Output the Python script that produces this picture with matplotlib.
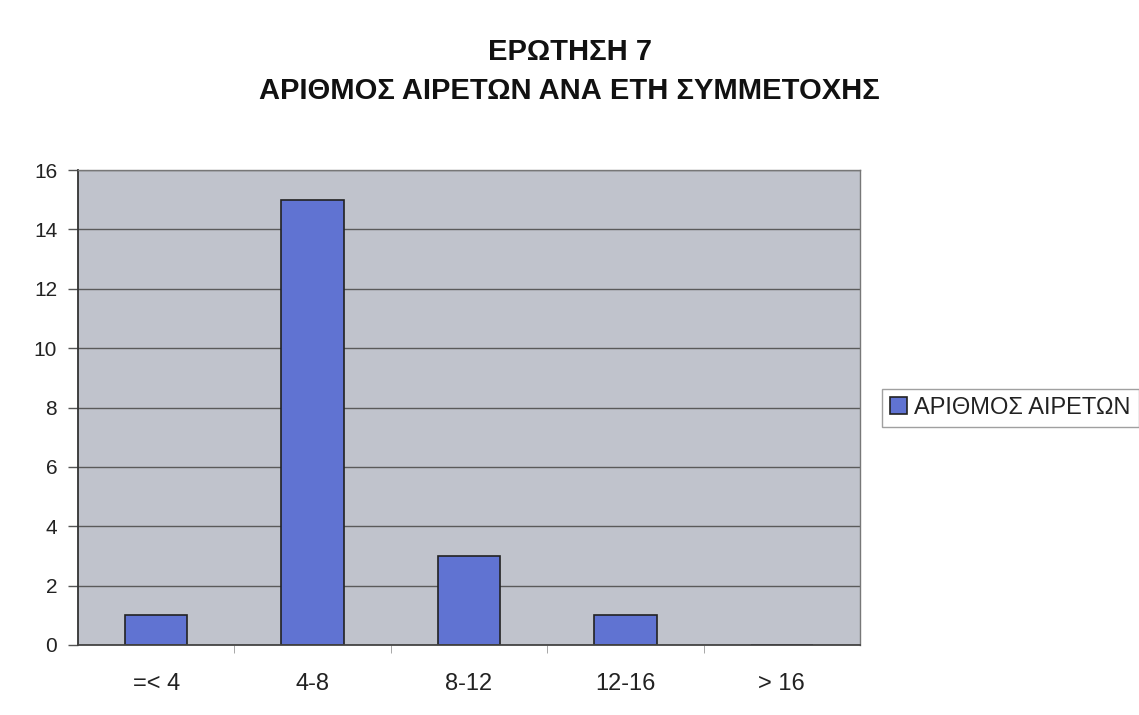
import matplotlib
matplotlib.use("Agg")
import matplotlib.pyplot as plt
import numpy as np

categories = ["=< 4", "4-8", "8-12", "12-16", "> 16"]
values = [1, 15, 3, 1, 0]
series_name = "ΑΡΙΘΜΟΣ ΑΙΡΕΤΩΝ"
title_line1 = "ΕΡΩΤΗΣΗ 7"
title_line2 = "ΑΡΙΘΜΟΣ ΑΙΡΕΤΩΝ ΑΝΑ ΕΤΗ ΣΥΜΜΕΤΟΧΗΣ"
yticks = [0, 2, 4, 6, 8, 10, 12, 14, 16]

plt.rcParams['font.family'] = ['Liberation Sans', 'DejaVu Sans']

fig = plt.figure(figsize=(11.39, 7.15), dpi=100)
ax = fig.add_axes([78/1139, 1-645/715, (860-78)/1139, (645-170)/715])
ax.set_facecolor("#c0c3cc")

x = np.arange(len(categories))
ax.bar(x, values, width=0.4, color="#6073d2", edgecolor="#222222", linewidth=1.2,
       label=series_name, zorder=2)

ax.set_xlim(-0.5, len(categories)-0.5)
ax.set_ylim(0, 16)
ax.set_yticks(yticks)
ax.set_yticklabels([str(v) for v in yticks], fontsize=15, color="#222222")
ax.yaxis.grid(True, color="#5a5a5a", linewidth=1.0, zorder=1)
ax.set_axisbelow(True)
ax.set_xticks(x)
ax.set_xticklabels(categories, fontsize=17, color="#222222")
ax.tick_params(axis='x', length=0, pad=20)
ax.set_xticks(np.arange(0.5, len(categories)-0.5, 1), minor=True)
ax.tick_params(axis='x', which='minor', length=6, color="#999999", direction='out')
ax.tick_params(axis='y', length=7, color="#555555", pad=8, width=1)

for s in ['top', 'right']:
    ax.spines[s].set_color("#777777")
    ax.spines[s].set_linewidth(1.0)
ax.spines['left'].set_color("#333333")
ax.spines['left'].set_linewidth(1.3)
ax.spines['bottom'].set_color("#444444")
ax.spines['bottom'].set_linewidth(1.3)
for s in ax.spines.values():
    s.set_zorder(2.5)

fig.text(0.5, 1-52/715, title_line1, ha='center', va='center', fontsize=21,
         fontweight='bold', color="#111111")
fig.text(0.5, 1-91/715, title_line2, ha='center', va='center',
         fontsize=21, fontweight='bold', color="#111111")

leg = fig.legend(loc='center left', bbox_to_anchor=(882/1139, 1-408/715), fontsize=17,
                 frameon=True, fancybox=False, edgecolor="#888888",
                 handlelength=0.7, handleheight=0.7, handletextpad=0.3,
                 borderpad=0.35, borderaxespad=0)
leg.get_frame().set_linewidth(1.0)
for t in leg.get_texts():
    t.set_color("#222222")

fig.savefig("out.png", dpi=100, facecolor="white")
